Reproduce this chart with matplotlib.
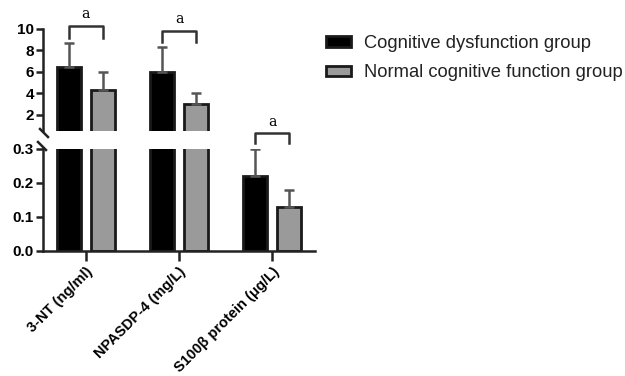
import matplotlib.pyplot as plt
import numpy as np

plt.rcParams['font.family'] = ['Liberation Sans', 'DejaVu Sans']

categories = ['3-NT (ng/ml)', 'NPASDP-4 (mg/L)', 'S100β protein (μg/L)']
groups = ['Cognitive dysfunction group', 'Normal cognitive function group']
dysfunction = [6.5, 6.0, 0.22]
dysfunction_sd = [2.2, 2.35, 0.08]
normal = [4.3, 3.0, 0.13]
normal_sd = [1.7, 1.05, 0.05]
sig_label = ['a', 'a', 'a']

W, H = 625, 376
fig = plt.figure(figsize=(W / 100, H / 100), dpi=100)

def px_axes(x0, y0, x1, y1):
    return fig.add_axes([x0 / W, 1 - y1 / H, (x1 - x0) / W, (y1 - y0) / H])

ax_top = px_axes(43, 29, 315, 131)
ax_bot = px_axes(43, 149, 315, 251)

x = np.arange(len(categories))
bw = 0.26
off = 0.185
colors = ['black', '#9a9a9a']
ecol = '#1a1a1a'
err_style = dict(ecolor='#555555', elinewidth=1.8, capsize=3.8, capthick=1.8)

for ax in (ax_top, ax_bot):
    ax.bar(x - off, dysfunction, bw, color=colors[0], edgecolor=ecol, linewidth=2,
           yerr=[np.zeros(3), dysfunction_sd], error_kw=err_style, label=groups[0])
    ax.bar(x + off, normal, bw, color=colors[1], edgecolor=ecol, linewidth=2,
           yerr=[np.zeros(3), normal_sd], error_kw=err_style, label=groups[1])
    ax.set_xlim(-0.46, 2.46)
    for s in ('top', 'right'):
        ax.spines[s].set_visible(False)
    ax.spines['left'].set_linewidth(1.8)
    ax.spines['left'].set_color('#222222')
    ax.tick_params(axis='y', width=1.8, length=5, color='#222222', labelsize=11, pad=1.5)

ax_top.set_ylim(0.5, 10)
ax_top.set_yticks([2, 4, 6, 8, 10])
ax_top.set_yticklabels(['2', '4', '6', '8', '10'], fontweight='bold')
ax_top.spines['bottom'].set_visible(False)
ax_top.set_xticks([])

ax_bot.set_ylim(0, 0.3)
ax_bot.set_yticks([0.0, 0.1, 0.2, 0.3])
ax_bot.set_yticklabels(['0.0', '0.1', '0.2', '0.3'], fontweight='bold')
ax_bot.spines['bottom'].set_linewidth(1.8)
ax_bot.spines['bottom'].set_color('#222222')
ax_bot.set_xticks(x)
ax_bot.set_xticklabels(categories, rotation=45, ha='right', rotation_mode='anchor',
                       fontweight='bold', fontsize=10.5)
ax_bot.tick_params(axis='x', width=1.8, length=7, color='#222222', pad=3)

# break marks on the y axis
for (xa, ya, xb, yb) in [(40, 129, 48, 137), (38, 142, 46, 150)]:
    fig.add_artist(plt.Line2D([xa / W, xb / W], [1 - ya / H, 1 - yb / H],
                              color='#222222', linewidth=1.8))

# significance brackets
def bracket(ax, i, y_end, y_top, label, text_off):
    xs = [i - off, i - off, i + off, i + off]
    ys = [y_end, y_top, y_top, y_end]
    ax.plot(xs, ys, color='#333333', linewidth=1.8, clip_on=False)
    ax.text(i, y_top + text_off, label, ha='center', va='bottom', fontsize=10,
            family='DejaVu Serif', clip_on=False)

bracket(ax_top, 0, 9.2, 10.3, sig_label[0], 0.45)
bracket(ax_top, 1, 8.8, 9.8, sig_label[1], 0.45)
bracket(ax_bot, 2, 0.318, 0.347, sig_label[2], 0.012)

handles, labels = ax_bot.get_legend_handles_labels()
fig.legend(handles, labels, loc='upper left', bbox_to_anchor=(326 / W, 1 - 35 / H),
           frameon=False, fontsize=13.2, handlelength=1.35, handleheight=0.5,
           handletextpad=0.7, labelspacing=0.68, labelcolor='#222222',
           borderaxespad=0, borderpad=0)

fig.savefig('out.png', dpi=100)
